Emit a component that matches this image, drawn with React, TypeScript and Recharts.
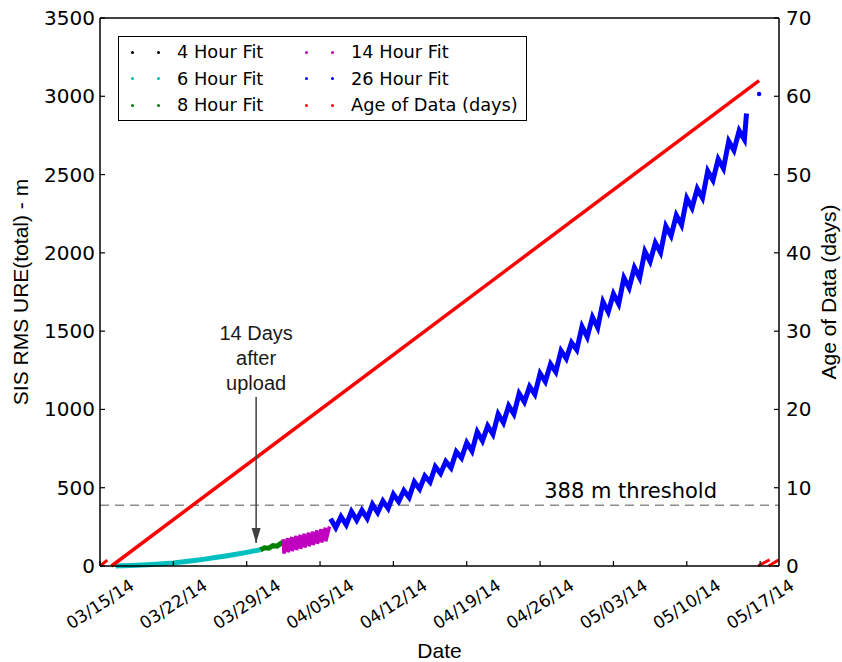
import React from "react";
import { ComposedChart, Line, ReferenceLine, XAxis, YAxis } from "recharts";

// x values are days since 03/15/14, fits are SIS RMS URE in metres
const DATE_TICKS = [0, 7, 14, 21, 28, 35, 42, 49, 56, 63];
const DATE_LABELS = [
  "03/15/14",
  "03/22/14",
  "03/29/14",
  "04/05/14",
  "04/12/14",
  "04/19/14",
  "04/26/14",
  "05/03/14",
  "05/10/14",
  "05/17/14",
];
const URE_TICKS = [0, 500, 1000, 1500, 2000, 2500, 3000, 3500];
const AGE_TICKS = [0, 10, 20, 30, 40, 50, 60, 70];
const THRESHOLD = 388;

const FIT4_DAYS: number[] = [];
const FIT4_URE: number[] = [];

const FIT6_DAYS = [1.5, 2, 3, 4, 5, 6, 7, 8, 9, 10, 11, 12, 13, 14, 15, 15.3];
const FIT6_URE = [0, 1, 3, 6, 10, 15, 20, 27, 35, 44, 54, 64, 75, 87, 100, 104];

const FIT8_DAYS = [15.3, 15.7, 16.1, 16.5, 16.9, 17.3, 17.5];
const FIT8_URE = [102, 116, 114, 130, 127, 146, 150];

const FIT14_DAYS = [
  17.5, 17.55, 17.9, 17.95, 18.3, 18.35, 18.7, 18.75, 19.1, 19.15, 19.5, 19.55,
  19.9, 19.95, 20.3, 20.35, 20.7, 20.75, 21.1, 21.15, 21.5, 21.55, 21.9,
];
const FIT14_URE = [
  172, 80, 178, 88, 185, 95, 192, 102, 199, 110, 206, 118, 213, 126, 220, 134,
  228, 142, 236, 150, 244, 158, 252,
];

const FIT26_DAYS = [
  22, 22.5, 23, 23.5, 24, 24.5, 25, 25.5, 26, 26.5, 27, 27.5, 28, 28.5, 29, 29.5,
  30, 30.5, 31, 31.5, 32, 32.5, 33, 33.5, 34, 34.5, 35, 35.5, 36, 36.5, 37, 37.5,
  38, 38.5, 39, 39.5, 40, 40.5, 41, 41.5, 42, 42.5, 43, 43.5, 44, 44.5, 45, 45.5,
  46, 46.5, 47, 47.5, 48, 48.5, 49, 49.5, 50, 50.5, 51, 51.5, 52, 52.5, 53, 53.5,
  54, 54.5, 55, 55.5, 56, 56.5, 57, 57.5, 58, 58.5, 59, 59.5, 60, 60.5, 61, 61.5,
  61.7,
];
const FIT26_URE = [
  302, 245, 315, 263, 348, 293, 356, 304, 394, 341, 415, 368, 458, 411, 482, 438,
  537, 492, 575, 536, 634, 591, 667, 627, 730, 690, 787, 734, 857, 800, 894, 841,
  970, 915, 1023, 970, 1101, 1048, 1146, 1097, 1230, 1178, 1290, 1240, 1375, 1325,
  1427, 1381, 1529, 1463, 1589, 1522, 1688, 1622, 1738, 1674, 1840, 1776, 1905,
  1841, 2009, 1945, 2064, 2002, 2170, 2109, 2240, 2178, 2349, 2288, 2410, 2351,
  2522, 2464, 2598, 2539, 2713, 2655, 2780, 2724, 2890,
];
const FIT26_LATE_DAYS = [62.9];
const FIT26_LATE_URE = [3015];

// age of data (days), right axis
const AGE_DAYS = [1.1, 62.9];
const AGE_VALUES = [0, 62];
const AGE_RESET_A_DAYS = [0, 0.7];
const AGE_RESET_A_VALUES = [0, 0.75];
const AGE_RESET_B_DAYS = [62.8, 63.9];
const AGE_RESET_B_VALUES = [0, 0.8];
const AGE_RESET_C_DAYS = [63.8, 64.8];
const AGE_RESET_C_VALUES = [0, 0.8];

const toPoints = (days: number[], values: number[]) =>
  days.map((t, i) => ({ t, v: values[i] }));

const LEGEND_ITEMS = [
  { name: "4 Hour Fit", color: "#000000" },
  { name: "6 Hour Fit", color: "#00bfbf" },
  { name: "8 Hour Fit", color: "#008000" },
  { name: "14 Hour Fit", color: "#bf00bf" },
  { name: "26 Hour Fit", color: "#0000ff" },
  { name: "Age of Data (days)", color: "#ff0000" },
];

const TICK_FONT = { fontFamily: '"DejaVu Sans"', fontSize: 20 };
const TITLE_FONT = { fontFamily: '"Liberation Sans", Arial', fontSize: 21 };
const NOTE_FONT = { fontFamily: '"Liberation Sans", Arial', fontSize: 20 };

function DateTick({ x, y, payload }: any) {
  const label = DATE_LABELS[DATE_TICKS.indexOf(payload.value)];
  const cy = y + 38;
  return (
    <g>
      <line x1={x} x2={x} y1={y} y2={y - 5} stroke="#000" strokeWidth={1.2} />
      <text
        x={x}
        y={cy}
        textAnchor="middle"
        dominantBaseline="central"
        transform={`rotate(-33 ${x} ${cy})`}
        style={{ fontFamily: '"DejaVu Sans"', fontSize: 17 }}
        fill="#000"
      >
        {label}
      </text>
    </g>
  );
}

function UreTick({ x, y, payload }: any) {
  return (
    <g>
      <line x1={x} x2={x + 5} y1={y} y2={y} stroke="#000" strokeWidth={1.2} />
      <text x={x - 5} y={y} textAnchor="end" dominantBaseline="central" style={TICK_FONT} fill="#000">
        {payload.value}
      </text>
    </g>
  );
}

function AgeTick({ x, y, payload }: any) {
  return (
    <g>
      <line x1={x - 5} x2={x} y1={y} y2={y} stroke="#000" strokeWidth={1.2} />
      <text x={x + 7} y={y} textAnchor="start" dominantBaseline="central" style={TICK_FONT} fill="#000">
        {payload.value}
      </text>
    </g>
  );
}

function DateTitle({ viewBox }: any) {
  if (!viewBox) return null;
  return (
    <text
      x={viewBox.x + viewBox.width / 2}
      y={viewBox.y + 84}
      textAnchor="middle"
      dominantBaseline="central"
      style={TITLE_FONT}
      fill="#000"
    >
      Date
    </text>
  );
}

function UreTitle({ viewBox }: any) {
  if (!viewBox) return null;
  const cx = viewBox.x + 20;
  const cy = viewBox.y + viewBox.height / 2;
  return (
    <text
      x={cx}
      y={cy}
      textAnchor="middle"
      dominantBaseline="central"
      transform={`rotate(-90 ${cx} ${cy})`}
      style={TITLE_FONT}
      fill="#000"
    >
      SIS RMS URE(total) - m
    </text>
  );
}

function AgeTitle({ viewBox }: any) {
  if (!viewBox) return null;
  const cx = viewBox.x + 49;
  const cy = viewBox.y + viewBox.height / 2;
  return (
    <text
      x={cx}
      y={cy}
      textAnchor="middle"
      dominantBaseline="central"
      transform={`rotate(-90 ${cx} ${cy})`}
      style={TITLE_FONT}
      fill="#000"
    >
      Age of Data (days)
    </text>
  );
}

function ThresholdLabel({ viewBox }: any) {
  if (!viewBox) return null;
  return (
    <text
      x={viewBox.x + viewBox.width - 62}
      y={viewBox.y - 7}
      textAnchor="end"
      style={{ fontFamily: '"DejaVu Sans"', fontSize: 21 }}
      fill="#000"
    >
      {THRESHOLD} m threshold
    </text>
  );
}

function UploadNote({ viewBox }: any) {
  if (!viewBox) return null;
  const x = viewBox.x;
  const top = viewBox.y;
  const tip = viewBox.y + viewBox.height;
  return (
    <g>
      <polygon
        points={`${x - 4.5},${tip - 15} ${x + 4.5},${tip - 15} ${x},${tip}`}
        fill="#404040"
      />
      <text textAnchor="middle" style={NOTE_FONT} fill="#1a1a1a">
        <tspan x={x} y={top - 57}>14 Days</tspan>
        <tspan x={x} y={top - 32}>after</tspan>
        <tspan x={x} y={top - 7}>upload</tspan>
      </text>
    </g>
  );
}

function FitLegend() {
  return (
    <div
      style={{
        position: "absolute",
        left: 118,
        top: 36,
        width: 409,
        height: 85,
        boxSizing: "border-box",
        border: "1.5px solid #000",
        background: "#fff",
        fontFamily: '"DejaVu Sans"',
        fontSize: 17.8,
        color: "#000",
      }}
    >
      {LEGEND_ITEMS.map((item, i) => {
        const col = Math.floor(i / 3);
        const row = i % 3;
        const left = col === 0 ? 12 : 186;
        return (
          <div
            key={item.name}
            style={{
              position: "absolute",
              left,
              top: 15 + row * 26.5,
              height: 0,
              display: "flex",
              alignItems: "center",
              whiteSpace: "nowrap",
            }}
          >
            <span style={{ width: 3, height: 3, borderRadius: 2, background: item.color }} />
            <span style={{ width: 3, height: 3, borderRadius: 2, background: item.color, marginLeft: 23 }} />
            <span style={{ marginLeft: 17, lineHeight: "20px" }}>{item.name}</span>
          </div>
        );
      })}
    </div>
  );
}

export default function App() {
  return (
    <div style={{ position: "absolute", left: 0, top: 0, width: 842, height: 662, background: "#fff" }}>
      <ComposedChart width={842} height={662} margin={{ top: 18, right: 0, bottom: 0, left: 0 }}>
        <XAxis
          type="number"
          dataKey="t"
          domain={[0, 64.8]}
          allowDataOverflow
          ticks={DATE_TICKS}
          tick={<DateTick />}
          tickSize={0}
          tickMargin={0}
          tickLine={false}
          height={96}
          axisLine={{ stroke: "#000", strokeWidth: 1.5 }}
          label={<DateTitle />}
        />
        <YAxis
          yAxisId="ure"
          type="number"
          domain={[0, 3500]}
          ticks={URE_TICKS}
          tick={<UreTick />}
          tickSize={0}
          tickMargin={0}
          tickLine={false}
          width={100}
          axisLine={{ stroke: "#000", strokeWidth: 1.5 }}
          label={<UreTitle />}
        />
        <YAxis
          yAxisId="age"
          orientation="right"
          type="number"
          domain={[0, 70]}
          ticks={AGE_TICKS}
          tick={<AgeTick />}
          tickSize={0}
          tickMargin={0}
          tickLine={false}
          width={63}
          axisLine={{ stroke: "#000", strokeWidth: 1.5 }}
          label={<AgeTitle />}
        />
        <ReferenceLine yAxisId="ure" y={3500} stroke="#000" strokeWidth={1.5} />
        <ReferenceLine
          yAxisId="ure"
          y={THRESHOLD}
          stroke="#8c8c8c"
          strokeWidth={1.5}
          strokeDasharray="9 6"
          label={<ThresholdLabel />}
        />

        <Line yAxisId="ure" data={toPoints(FIT4_DAYS, FIT4_URE)} dataKey="v" stroke="#000" strokeWidth={4} dot={false} isAnimationActive={false} />
        <Line yAxisId="ure" data={toPoints(FIT6_DAYS, FIT6_URE)} dataKey="v" stroke="#00bfbf" strokeWidth={5} dot={false} isAnimationActive={false} />
        <Line yAxisId="ure" data={toPoints(FIT8_DAYS, FIT8_URE)} dataKey="v" stroke="#008000" strokeWidth={5} dot={false} isAnimationActive={false} />
        <Line yAxisId="ure" data={toPoints(FIT14_DAYS, FIT14_URE)} dataKey="v" stroke="#bf00bf" strokeWidth={3.5} dot={false} isAnimationActive={false} />
        <Line yAxisId="ure" data={toPoints(FIT26_DAYS, FIT26_URE)} dataKey="v" stroke="#0000ff" strokeWidth={5} dot={false} isAnimationActive={false} />
        <Line
          yAxisId="ure"
          data={toPoints(FIT26_LATE_DAYS, FIT26_LATE_URE)}
          dataKey="v"
          stroke="#0000ff"
          dot={{ r: 2.2, fill: "#0000ff", stroke: "none" }}
          isAnimationActive={false}
        />

        <Line yAxisId="age" data={toPoints(AGE_DAYS, AGE_VALUES)} dataKey="v" stroke="#ff0000" strokeWidth={3.5} dot={false} isAnimationActive={false} />
        <Line yAxisId="age" data={toPoints(AGE_RESET_A_DAYS, AGE_RESET_A_VALUES)} dataKey="v" stroke="#ff0000" strokeWidth={3} dot={false} isAnimationActive={false} />
        <Line yAxisId="age" data={toPoints(AGE_RESET_B_DAYS, AGE_RESET_B_VALUES)} dataKey="v" stroke="#ff0000" strokeWidth={3} dot={false} isAnimationActive={false} />
        <Line yAxisId="age" data={toPoints(AGE_RESET_C_DAYS, AGE_RESET_C_VALUES)} dataKey="v" stroke="#ff0000" strokeWidth={3} dot={false} isAnimationActive={false} />

        <ReferenceLine
          yAxisId="ure"
          segment={[
            { x: 14.9, y: 1080 },
            { x: 14.9, y: 147 },
          ]}
          stroke="#404040"
          strokeWidth={1.5}
          label={<UploadNote />}
        />
      </ComposedChart>
      <FitLegend />
    </div>
  );
}
